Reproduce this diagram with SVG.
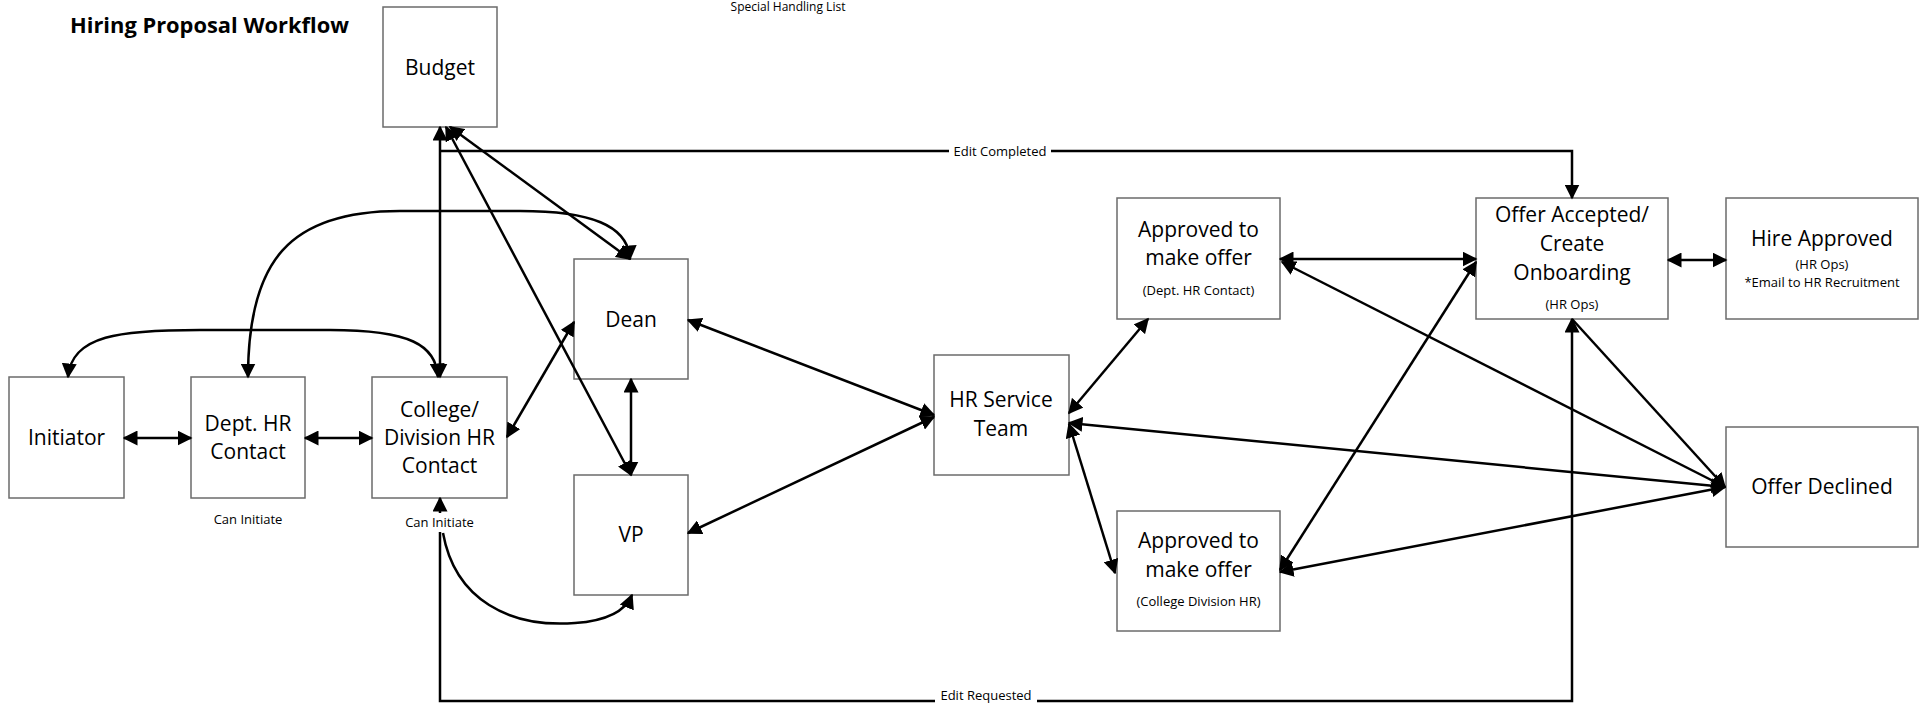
<svg xmlns="http://www.w3.org/2000/svg" width="1929" height="704" viewBox="0 0 1929 704">
<style>
.box{fill:#fff;stroke:#6b6b6b;stroke-width:1.5}
.t{font-family:"Open Sans","Noto Sans",sans-serif;font-size:21px;fill:#000;text-anchor:middle}
.s{font-family:"Open Sans","Noto Sans",sans-serif;font-size:13px;fill:#000;text-anchor:middle}
.c{fill:none;stroke:#000;stroke-width:2.5}
.b{marker-start:url(#ah);marker-end:url(#ah)}
.e{marker-end:url(#ah)}
</style>
<defs>
<marker id="ah" viewBox="0 0 10 10" refX="9" refY="5" markerWidth="15" markerHeight="15" markerUnits="userSpaceOnUse" orient="auto-start-reverse">
<path d="M0,0 L10,5 L0,10 z" fill="#000"/>
</marker>
</defs>
<rect x="0" y="0" width="1929" height="704" fill="#fff"/>
<text x="70" y="33" font-family="'Open Sans','Noto Sans',sans-serif" font-size="22" font-weight="bold" textLength="279" lengthAdjust="spacingAndGlyphs">Hiring Proposal Workflow</text>
<text x="788" y="11" class="s" style="font-size:12px">Special Handling List</text>

<g id="budget"><rect class="box" x="383" y="7" width="114" height="120"/><text class="t" x="440" y="75">Budget</text></g>
<g id="initiator"><rect class="box" x="9" y="377" width="115" height="121"/><text class="t" x="66.5" y="445">Initiator</text></g>
<g id="dept-hr"><rect class="box" x="191" y="377" width="114" height="121"/><text class="t" x="248" y="431">Dept. HR</text><text class="t" x="248" y="459">Contact</text><text class="s" x="248" y="524">Can Initiate</text></g>
<g id="college-hr"><rect class="box" x="372" y="377" width="135" height="121"/><text class="t" x="439.5" y="417">College/</text><text class="t" x="439.5" y="445">Division HR</text><text class="t" x="439.5" y="473">Contact</text></g>
<g id="dean"><rect class="box" x="574" y="259" width="114" height="120"/><text class="t" x="631" y="327">Dean</text></g>
<g id="vp"><rect class="box" x="574" y="475" width="114" height="120"/><text class="t" x="631" y="542">VP</text></g>
<g id="hr-service"><rect class="box" x="934" y="355" width="135" height="120"/><text class="t" x="1001" y="407">HR Service</text><text class="t" x="1001" y="436">Team</text></g>
<g id="approved-dept"><rect class="box" x="1117" y="198" width="163" height="121"/><text class="t" x="1198.5" y="237">Approved to</text><text class="t" x="1198.5" y="265">make offer</text><text class="s" x="1198.5" y="295">(Dept. HR Contact)</text></g>
<g id="approved-college"><rect class="box" x="1117" y="511" width="163" height="120"/><text class="t" x="1198.5" y="548">Approved to</text><text class="t" x="1198.5" y="577">make offer</text><text class="s" x="1198.5" y="606">(College Division HR)</text></g>
<g id="offer-accepted"><rect class="box" x="1476" y="198" width="192" height="121"/><text class="t" x="1572" y="222">Offer Accepted/</text><text class="t" x="1572" y="251">Create</text><text class="t" x="1572" y="280">Onboarding</text><text class="s" x="1572" y="309">(HR Ops)</text></g>
<g id="hire-approved"><rect class="box" x="1726" y="198" width="192" height="121"/><text class="t" x="1822" y="246">Hire Approved</text><text class="s" x="1822" y="269">(HR Ops)</text><text class="s" x="1822" y="287">*Email to HR Recruitment</text></g>
<g id="offer-declined"><rect class="box" x="1726" y="427" width="192" height="120"/><text class="t" x="1822" y="494">Offer Declined</text></g>

<g id="connectors">
<path class="c b" d="M124,438 L191,438"/>
<path class="c b" d="M305,438 L372,438"/>
<path class="c b" d="M68,377 C72,335 120,330 200,330 L330,330 C410,330 436,345 438,377"/>
<path class="c b" d="M248,377 C248,260 290,211 400,211 L520,211 C590,211 628,225 630,259"/>
<path class="c b" d="M440,127 L440,377"/>
<path class="c e" d="M440,151 H1572 V198"/>
<path class="c b" d="M450,127 L630,259"/>
<path class="c b" d="M446,127 L631,475"/>
<path class="c b" d="M507,437 L574,322"/>
<path class="c b" d="M631,379 L631,475"/>
<path class="c e" d="M443,533 C455,600 510,628 575,623 C605,621 625,612 632,595"/>
<path class="c b" d="M440,498 V701 H1572 V319"/>
<path class="c b" d="M688,320 L934,415"/>
<path class="c b" d="M688,533 L934,417"/>
<path class="c b" d="M1069,413 L1148,319"/>
<path class="c b" d="M1069,424 L1115,573"/>
<path class="c b" d="M1069,423 L1725,487"/>
<path class="c b" d="M1280,259 L1476,259"/>
<path class="c b" d="M1282,262 L1725,487"/>
<path class="c b" d="M1280,570 L1476,262"/>
<path class="c b" d="M1280,572 L1725,487"/>
<path class="c e" d="M1572,319 L1725,487"/>
<path class="c b" d="M1668,260 L1726,260"/>
<rect x="949" y="143" width="102" height="16" fill="#fff"/>
<text class="s" x="1000" y="156">Edit Completed</text>
<rect x="935" y="689" width="102" height="15" fill="#fff"/>
<text class="s" x="986" y="700">Edit Requested</text>
</g>
<g id="college-note"><rect x="400" y="513" width="80" height="19" fill="#fff"/><text class="s" x="439.5" y="527">Can Initiate</text></g>
</svg>
